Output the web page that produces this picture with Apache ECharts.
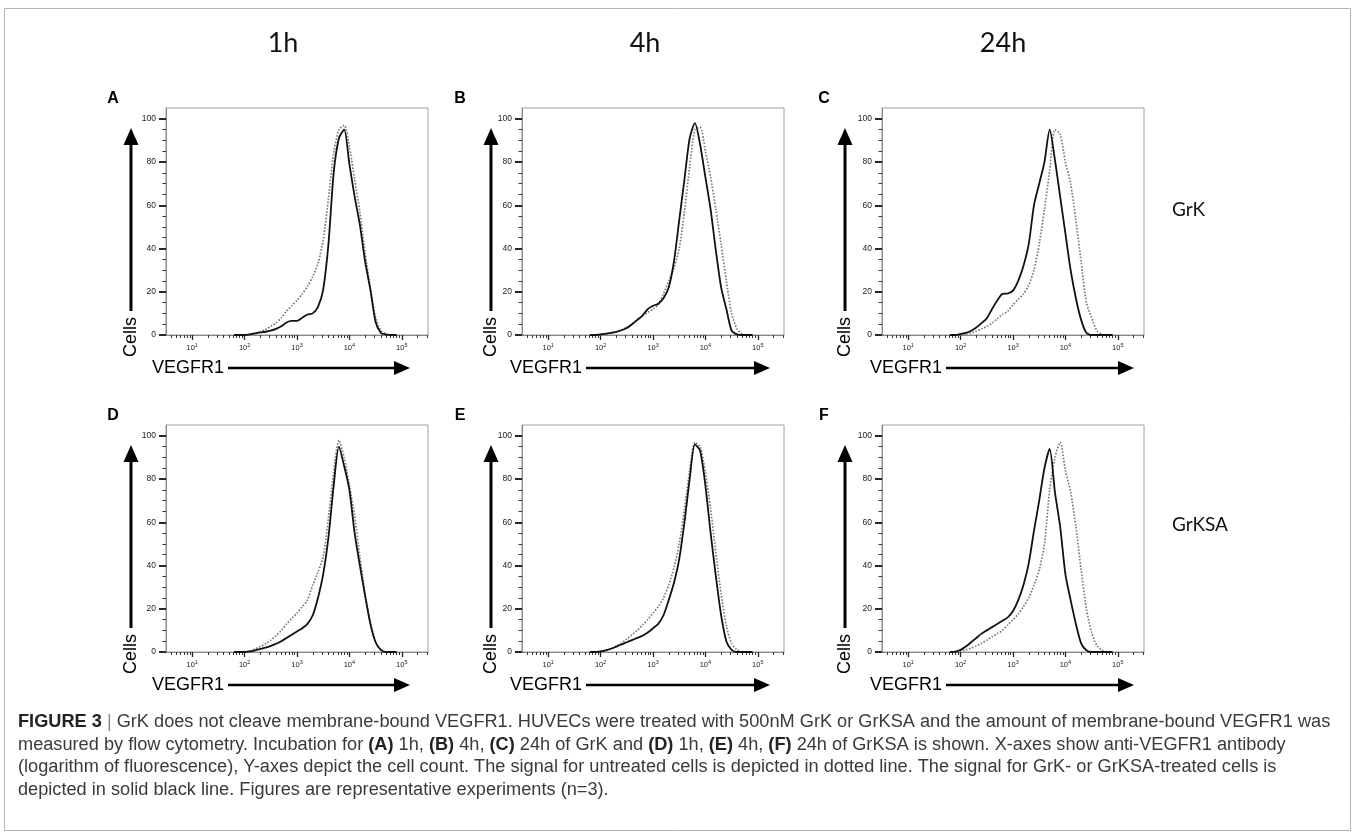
<!DOCTYPE html>
<html>
<head>
<meta charset="utf-8">
<script src="https://cdn.jsdelivr.net/npm/echarts@6/dist/echarts.min.js"></script>
<style>
  html, body { margin: 0; padding: 0; background: #fff; }
  #chart { width: 1355px; height: 837px; }
</style>
</head>
<body>
<div id="chart"></div>
<script>
// x positions of the histogram samples, in log10 of fluorescence
const logFluorescence = [1.8, 1.9, 2.0, 2.1, 2.2, 2.3, 2.4, 2.5, 2.6, 2.7, 2.8, 2.9, 3.0, 3.1, 3.2, 3.3,
  3.4, 3.5, 3.6, 3.7, 3.8, 3.9, 4.0, 4.1, 4.2, 4.3, 4.4, 4.5, 4.6, 4.7, 4.8, 4.9];

// cells (% of max), solid = treated, dotted = untreated
const grk1hTreated = [0, 0, 0, 0.3, 0.8, 1.2, 1.5, 2, 2.8, 4, 5.8, 6.5, 6.5, 8, 9.5, 10, 13, 21, 42, 75, 91, 95, 79, 64, 51, 34, 21, 6, 1, 0.2, 0, 0];
const grk1hUntreated = [0, 0, 0, 0.3, 0.8, 1.5, 2.5, 4, 5.5, 8, 11, 13.5, 16, 19, 22.5, 27, 33, 44, 63, 84, 95, 97, 87, 72, 57, 38, 22, 8, 2, 0.5, 0, 0];
const grk4hTreated = [0, 0, 0.3, 0.6, 1, 1.5, 2.2, 3.2, 5, 7, 9, 12, 13.5, 14.5, 17, 22, 34, 53, 72, 91, 98, 88, 73, 58, 39, 22, 12, 2, 0.3, 0, 0, 0];
const grk4hUntreated = [0, 0, 0.2, 0.5, 1, 1.6, 2.4, 3.5, 5, 7, 9, 10.5, 12, 14, 19, 25, 31, 40, 57, 78, 95, 96, 85, 73, 58, 42, 25, 10, 3, 0.5, 0, 0];
const grk24hTreated = [0, 0, 0.5, 1, 2, 3.5, 5.5, 7.7, 12, 16, 19, 19.2, 20.5, 25, 32, 42, 60, 70, 80, 95, 81, 64, 47, 30, 17, 7, 1, 0, 0, 0, 0, 0];
const grk24hUntreated = [0, 0, 0, 0.5, 1, 1.8, 2.8, 4, 5.5, 7.5, 9.5, 11, 14, 16.5, 19, 23, 30, 42, 58, 76, 95, 93, 80, 70, 53, 34, 15, 8, 2, 0.3, 0, 0];
const grksa1hTreated = [0, 0, 0, 0.3, 0.8, 1.4, 2, 2.8, 3.8, 5, 6.5, 8, 9.5, 11, 13, 17, 25, 36, 53, 77, 95, 86, 75, 55, 40, 26, 13, 4.5, 1, 0, 0, 0];
const grksa1hUntreated = [0, 0, 0.2, 0.6, 1.5, 2.5, 3.8, 5.5, 7.5, 10, 13, 15.5, 18, 21, 24, 31, 37, 44, 62, 83, 98, 90, 77, 63, 44, 27, 14, 5, 1, 0, 0, 0];
const grksa4hTreated = [0, 0, 0.3, 0.8, 1.5, 2.5, 3.5, 4.5, 5.5, 6.5, 7.5, 9, 11, 13, 17, 24, 32, 43, 60, 80, 96, 93, 77, 55, 35, 17, 5, 1, 0, 0, 0, 0];
const grksa4hUntreated = [0, 0, 0.3, 0.8, 1.6, 2.8, 4.2, 6, 8, 10, 12.5, 15, 18, 21, 25, 31, 39, 50, 66, 84, 97, 95, 83, 66, 46, 27, 12, 4, 1, 0, 0, 0];
const grksa24hTreated = [0, 0.2, 1, 2.5, 4.5, 6.5, 8.5, 10, 11.5, 13, 14.5, 16, 19, 24, 31, 41, 56, 70, 85, 94, 74, 58, 36, 24, 13, 4, 0.8, 0, 0, 0, 0, 0];
const grksa24hUntreated = [0, 0, 0.5, 1, 1.8, 2.8, 4, 5.5, 7, 8.5, 10, 12.5, 15, 17.5, 21, 25, 31, 38, 50, 75, 90, 97, 84, 74, 58, 38, 20, 9, 3, 0.8, 0, 0];

const timeLabels = ["1h", "4h", "24h"];
const rowLabels = ["GrK", "GrKSA"];
const panelLetters = ["A", "B", "C", "D", "E", "F"];
const yTicks = [0, 20, 40, 60, 80, 100];
const xDecades = [1, 2, 3, 4, 5];
const captionLines = [
  "{b|FIGURE 3} {sep||} GrK does not cleave membrane-bound VEGFR1. HUVECs were treated with 500nM GrK or GrKSA and the amount of membrane-bound VEGFR1 was",
  "measured by flow cytometry. Incubation for {b|(A)} 1h, {b|(B)} 4h, {b|(C)} 24h of GrK and {b|(D)} 1h, {b|(E)} 4h, {b|(F)} 24h of GrKSA is shown. X-axes show anti-VEGFR1 antibody",
  "(logarithm of fluorescence), Y-axes depict the cell count. The signal for untreated cells is depicted in dotted line. The signal for GrK- or GrKSA-treated cells is",
  "depicted in solid black line. Figures are representative experiments (n=3).",
];

const panels = [
  { treated: grk1hTreated, untreated: grk1hUntreated },
  { treated: grk4hTreated, untreated: grk4hUntreated },
  { treated: grk24hTreated, untreated: grk24hUntreated },
  { treated: grksa1hTreated, untreated: grksa1hUntreated },
  { treated: grksa4hTreated, untreated: grksa4hUntreated },
  { treated: grksa24hTreated, untreated: grksa24hUntreated },
];

// layout
const colLeft = [166, 522, 882];
const rowTop = [108, 425];
const plotW = 262;
const plotH = 227;
const arrowX = [131, 491, 845];
const letterX = [113, 460, 824];
const vegfrX = [152, 510, 870];
const arrowTipX = [410, 770, 1134];
const titleX = [283, 645, 1003];
const xMin = 0.5;
const xMax = 5.5;

const minorX = [];
for (let d = 0; d <= 5; d++) {
  for (let k = 2; k <= 9; k++) {
    const v = d + Math.log10(k);
    if (v > xMin && v < xMax) minorX.push(v);
  }
}
const minorY = [];
for (let v = 5; v < 105; v += 5) {
  if (v % 20 !== 0) minorY.push(v);
}

const font = "'Liberation Sans', Arial, sans-serif";
const grids = [];
const xAxes = [];
const yAxes = [];
const series = [];
const elements = [];

panels.forEach((panel, i) => {
  const row = Math.floor(i / 3);
  const col = i % 3;
  const left = colLeft[col];
  const top = rowTop[row];
  grids.push({
    left, top, width: plotW, height: plotH,
    show: true, borderColor: "#a0a0a0", borderWidth: 1,
    outerBoundsMode: "none",
  });

  const xBase = { gridIndex: i, type: "value", min: xMin, max: xMax, position: "bottom", splitLine: { show: false } };
  xAxes.push({
    ...xBase,
    axisLine: { lineStyle: { color: "#888", width: 1 } },
    axisTick: { customValues: xDecades, length: 5, lineStyle: { color: "#222", width: 1.3 } },
    axisLabel: {
      customValues: xDecades,
      margin: 7,
      formatter: (v) => `{b|10}{s|${v}}`,
      rich: {
        b: { fontSize: 7.5, color: "#222", fontFamily: font },
        s: { fontSize: 5.5, color: "#222", fontFamily: font, padding: [0, 0, 6, 0] },
      },
    },
  });
  xAxes.push({
    ...xBase,
    axisLine: { show: false },
    axisTick: { customValues: minorX, length: 3, lineStyle: { color: "#333", width: 1 } },
    axisLabel: { show: false },
  });

  const yBase = { gridIndex: i, type: "value", min: 0, max: 105, position: "left", splitLine: { show: false } };
  yAxes.push({
    ...yBase,
    axisLine: { show: true, lineStyle: { color: "#888", width: 1 } },
    axisTick: { customValues: yTicks, length: 7, lineStyle: { color: "#111", width: 1.8 } },
    axisLabel: { customValues: yTicks, margin: 10, fontSize: 8.5, color: "#222", fontFamily: font },
  });
  yAxes.push({
    ...yBase,
    axisLine: { show: false },
    axisTick: { customValues: minorY, length: 3.5, lineStyle: { color: "#333", width: 1 } },
    axisLabel: { show: false },
  });

  series.push({
    type: "line",
    xAxisIndex: i * 2,
    yAxisIndex: i * 2,
    data: logFluorescence.map((x, j) => [x, panel.untreated[j]]),
    showSymbol: false,
    smooth: 0.25,
    lineStyle: { color: "#7a7a7a", width: 1.7, type: [1.6, 1.6] },
    z: 2,
  });
  series.push({
    type: "line",
    xAxisIndex: i * 2,
    yAxisIndex: i * 2,
    data: logFluorescence.map((x, j) => [x, panel.treated[j]]),
    showSymbol: false,
    smooth: 0.25,
    lineStyle: { color: "#111", width: 1.8 },
    z: 3,
  });

  // panel letter
  elements.push({
    type: "text",
    style: {
      text: panelLetters[i], x: letterX[col], y: top - 9,
      font: `bold 16px ${font}`, fill: "#000", align: "center", verticalAlign: "middle",
    },
  });
  // "Cells" arrow
  const ax = arrowX[col];
  elements.push({
    type: "line",
    shape: { x1: ax, y1: top + 203, x2: ax, y2: top + 34 },
    style: { stroke: "#000", lineWidth: 3 },
  });
  elements.push({
    type: "polygon",
    shape: { points: [[ax, top + 20], [ax - 7.5, top + 37], [ax + 7.5, top + 37]] },
    style: { fill: "#000" },
  });
  elements.push({
    type: "text",
    x: ax, y: top + 229, rotation: Math.PI / 2,
    style: {
      text: "Cells", x: 0, y: 0,
      font: `18px ${font}`, fill: "#000", align: "center", verticalAlign: "middle",
    },
  });
  // "VEGFR1" arrow
  const vy = top + plotH + 33;
  elements.push({
    type: "text",
    style: {
      text: "VEGFR1", x: vegfrX[col], y: vy,
      font: `18px ${font}`, fill: "#000", align: "left", verticalAlign: "middle",
    },
  });
  elements.push({
    type: "line",
    shape: { x1: vegfrX[col] + 76, y1: vy, x2: arrowTipX[col] - 12, y2: vy },
    style: { stroke: "#000", lineWidth: 2.5 },
  });
  elements.push({
    type: "polygon",
    shape: { points: [[arrowTipX[col], vy], [arrowTipX[col] - 16, vy - 7], [arrowTipX[col] - 16, vy + 7]] },
    style: { fill: "#000" },
  });
});

timeLabels.forEach((label, col) => {
  elements.push({
    type: "text",
    style: {
      text: label, x: titleX[col], y: 43,
      font: "27px Lato, 'Open Sans', sans-serif", fill: "#111", align: "center", verticalAlign: "middle",
    },
  });
});

rowLabels.forEach((label, row) => {
  elements.push({
    type: "text",
    style: {
      text: label, x: 1172, y: row === 0 ? 210 : 525,
      font: "19px Lato, 'Open Sans', sans-serif", fill: "#111", align: "left", verticalAlign: "middle",
    },
  });
});

const captionFont = "'Liberation Sans', Arial, sans-serif";
captionLines.forEach((line, k) => {
  elements.push({
    type: "text",
    x: 18, y: 722 + k * 22.7, scaleX: 1.01,
    style: {
      text: line, x: 0, y: 0,
      font: `18px ${captionFont}`, fill: "#3a3a3a", align: "left", verticalAlign: "middle",
      rich: {
        b: { fontWeight: "bold", fontSize: 18, fontFamily: captionFont, fill: "#222" },
        sep: { fontSize: 18, fontFamily: captionFont, fill: "#888" },
      },
    },
  });
});

// outer frame
elements.push({
  type: "rect",
  shape: { x: 4.5, y: 8.5, width: 1346, height: 822 },
  style: { fill: "none", stroke: "#b5b5b5", lineWidth: 1 },
  z: -1,
});

const chart = echarts.init(document.getElementById("chart"), null, { renderer: "canvas" });
chart.setOption({
  animation: false,
  backgroundColor: "#fff",
  grid: grids,
  xAxis: xAxes,
  yAxis: yAxes,
  series,
  graphic: { elements },
});
</script>
</body>
</html>
